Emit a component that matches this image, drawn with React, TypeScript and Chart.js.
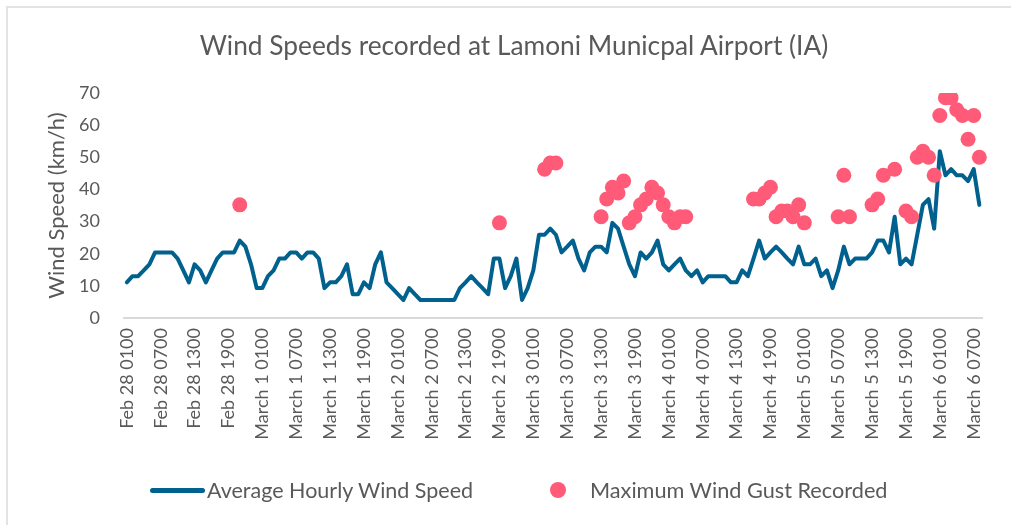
import React, { useEffect, useRef } from "react";
import { Chart, registerables } from "chart.js";

Chart.register(...registerables);

// Category days (hourly readings start at Feb 28 0100)
const dayNames = ["Feb 28", "March 1", "March 2", "March 3", "March 4", "March 5", "March 6"];
const firstHour = 1;
const hourCount = 152;

// Average hourly wind speed (km/h), one value per hour
const avgSpeed = [
  11.1, 13, 13, 14.8, 16.7, 20.4, 20.4, 20.4, 20.4, 18.5, 14.8, 11.1,
  16.7, 14.8, 11.1, 14.8, 18.5, 20.4, 20.4, 20.4, 24.1, 22.2, 16.7, 9.3,
  9.3, 13, 14.8, 18.5, 18.5, 20.4, 20.4, 18.5, 20.4, 20.4, 18.5, 9.3,
  11.1, 11.1, 13, 16.7, 7.4, 7.4, 11.1, 9.3, 16.7, 20.4, 11.1, 9.3,
  7.4, 5.6, 9.3, 7.4, 5.6, 5.6, 5.6, 5.6, 5.6, 5.6, 5.6, 9.3,
  11.1, 13, 11.1, 9.3, 7.4, 18.5, 18.5, 9.3, 13, 18.5, 5.6, 9.3,
  14.8, 25.9, 25.9, 27.8, 25.9, 20.4, 22.2, 24.1, 18.5, 14.8, 20.4, 22.2,
  22.2, 20.4, 29.6, 27.8, 22.2, 16.7, 13, 20.4, 18.5, 20.4, 24.1, 16.7,
  14.8, 16.7, 18.5, 14.8, 13, 14.8, 11.1, 13, 13, 13, 13, 11.1,
  11.1, 14.8, 13, 18.5, 24.1, 18.5, 20.4, 22.2, 20.4, 18.5, 16.7, 22.2,
  16.7, 16.7, 18.5, 13, 14.8, 9.3, 14.8, 22.2, 16.7, 18.5, 18.5, 18.5,
  20.4, 24.1, 24.1, 20.4, 31.5, 16.7, 18.5, 16.7, 25.9, 35.2, 37, 27.8,
  51.9, 44.4, 46.3, 44.4, 44.4, 42.6, 46.3, 35.2,
];

// Maximum wind gusts: hour index and value (km/h)
const gustHour = [
  20, 66, 74, 75, 76,
  84, 85, 86, 87, 88, 89, 90, 91, 92, 93, 94, 95, 96, 97, 98, 99,
  111, 112, 113, 114, 115, 116, 117, 118, 119, 120,
  126, 127, 128,
  132, 133, 134, 136, 138, 139, 140, 141, 142, 143, 144, 145, 146, 147, 148, 149, 150, 151,
];
const gustValue = [
  35.2, 29.6, 46.3, 48.2, 48.2,
  31.5, 37, 40.7, 38.9, 42.6, 29.6, 31.5, 35.2, 37, 40.7, 38.9, 35.2, 31.5, 29.6, 31.5, 31.5,
  37, 37, 38.9, 40.7, 31.5, 33.3, 33.3, 31.5, 35.2, 29.6,
  31.5, 44.4, 31.5,
  35.2, 37, 44.4, 46.3, 33.3, 31.5, 50, 51.9, 50, 44.4, 63, 68.5, 68.5, 64.8, 63, 55.6, 63, 50,
];

const yTicks = [0, 10, 20, 30, 40, 50, 60, 70];
const labelEvery = 6;

const TITLE = "Wind Speeds recorded at Lamoni Municpal Airport (IA)";
const Y_TITLE = "Wind Speed (km/h)";
const LINE_NAME = "Average Hourly Wind Speed";
const GUST_NAME = "Maximum Wind Gust Recorded";

const LINE_COLOR = "#00618F";
const GUST_COLOR = "#FF5B78";
const TEXT_COLOR = "#595959";
const FONT = "Lato, 'Open Sans', sans-serif";

function hourLabel(i: number): string {
  const total = firstHour + i;
  const d = Math.floor(total / 24);
  const h = total % 24;
  return `${dayNames[d]} ${String(h).padStart(2, "0")}00`;
}

export default function App() {
  const canvasRef = useRef<HTMLCanvasElement | null>(null);

  useEffect(() => {
    document.body.style.margin = "0";
    const canvas = canvasRef.current;
    if (!canvas) return;
    const labels: string[] = [];
    for (let i = 0; i < hourCount; i++) labels.push(hourLabel(i));
    const gustPoints = gustHour.map((h, k) => ({ x: labels[h], y: gustValue[k] }));

    const chart = new Chart(canvas, {
      type: "line",
      data: {
        labels,
        datasets: [
          {
            label: GUST_NAME,
            data: gustPoints as any,
            showLine: false,
            pointRadius: 7.5,
            pointHoverRadius: 7.5,
            pointBackgroundColor: GUST_COLOR,
            pointBorderWidth: 0,
            borderColor: GUST_COLOR,
            backgroundColor: GUST_COLOR,
            order: 0,
          },
          {
            label: LINE_NAME,
            data: avgSpeed,
            borderColor: LINE_COLOR,
            backgroundColor: LINE_COLOR,
            borderWidth: 4,
            pointRadius: 0,
            tension: 0,
            borderJoinStyle: "round",
            borderCapStyle: "round",
            order: 1,
          },
        ],
      },
      options: {
        responsive: false,
        animation: false,
        devicePixelRatio: 1,
        layout: { padding: { top: 93, right: 17, bottom: 0, left: 0 } },
        plugins: {
          legend: { display: false },
          title: { display: false },
          tooltip: { enabled: false },
        },
        scales: {
          x: {
            type: "category",
            offset: true,
            grid: { display: false, drawTicks: false },
            border: { display: true, color: "#D9D9D9", width: 2 },
            ticks: {
              autoSkip: false,
              minRotation: 90,
              maxRotation: 90,
              padding: 10,
              color: TEXT_COLOR,
              font: { family: FONT, size: 18 },
              callback: (_v: any, i: number) => (i % labelEvery === 0 ? labels[i] : ""),
            },
            afterFit: (s: any) => {
              s.height = 207;
            },
          },
          y: {
            min: 0,
            max: 70,
            afterBuildTicks: (s: any) => {
              s.ticks = yTicks.map((v) => ({ value: v }));
            },
            grid: { display: false, drawTicks: false },
            border: { display: false },
            ticks: {
              padding: 24,
              color: TEXT_COLOR,
              font: { family: FONT, size: 18 },
            },
            title: {
              display: true,
              text: Y_TITLE,
              color: TEXT_COLOR,
              font: { family: FONT, size: 22 },
              padding: { top: 44, bottom: 0 },
            },
            afterFit: (s: any) => {
              s.width = 124;
            },
          },
        },
      },
    });
    return () => chart.destroy();
  }, []);

  return (
    <div style={{ position: "fixed", left: 0, top: 0, width: 1011, height: 525, background: "#fff", overflow: "hidden", fontFamily: FONT }}>
      <div style={{ position: "absolute", left: 6, top: 6, width: 1020, height: 530, border: "2px solid #E3E3E3", boxSizing: "border-box" }} />
      <canvas ref={canvasRef} width={1011} height={525} style={{ position: "absolute", left: 0, top: 0 }} />
      <div style={{ position: "absolute", left: 0, width: 1028, top: 28, textAlign: "center", fontSize: 26.3, color: TEXT_COLOR, lineHeight: "34px", whiteSpace: "nowrap" }}>
        {TITLE}
      </div>
      <div style={{ position: "absolute", left: 150, top: 488, width: 55, height: 5, borderRadius: 3, background: LINE_COLOR }} />
      <div style={{ position: "absolute", left: 207, top: 476, fontSize: 21.5, color: TEXT_COLOR, lineHeight: "28px", whiteSpace: "nowrap" }}>
        {LINE_NAME}
      </div>
      <div style={{ position: "absolute", left: 550, top: 482, width: 16, height: 16, borderRadius: 8, background: GUST_COLOR }} />
      <div style={{ position: "absolute", left: 590, top: 476, fontSize: 21.7, color: TEXT_COLOR, lineHeight: "28px", whiteSpace: "nowrap" }}>
        {GUST_NAME}
      </div>
    </div>
  );
}
